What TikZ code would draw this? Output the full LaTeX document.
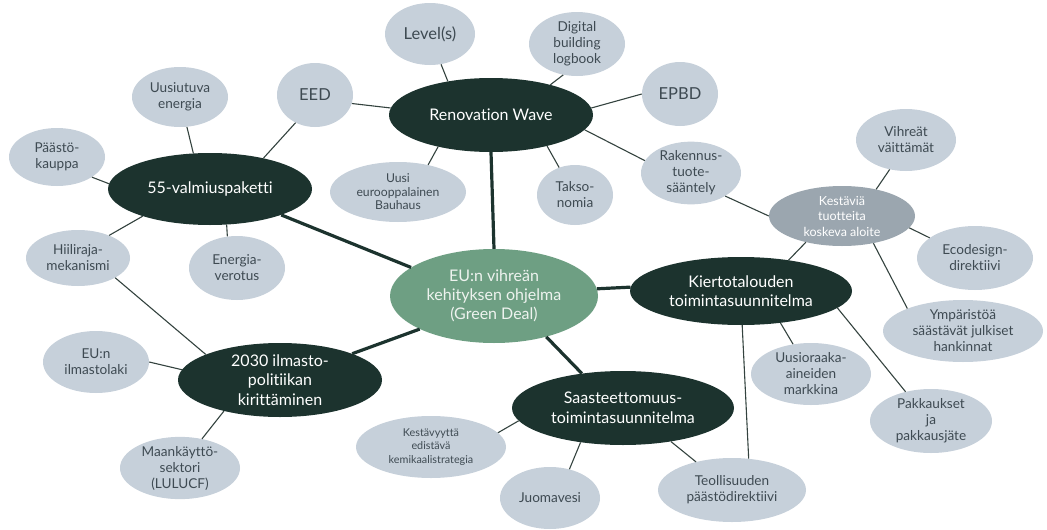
\documentclass[tikz,border=0pt]{standalone}
\usepackage{fontspec}
\setmainfont[Ligatures={NoCommon}]{Lato}
\usetikzlibrary{shapes.geometric}
\definecolor{hubfill}{HTML}{1C332E}
\definecolor{leaffill}{HTML}{C6D0DA}
\definecolor{leaftext}{HTML}{3E4A52}
\definecolor{corefill}{HTML}{6E9F83}
\definecolor{coretext}{HTML}{EEF3EF}
\definecolor{midfill}{HTML}{9BA6AF}
\definecolor{linecol}{HTML}{34433F}
\begin{document}
\begin{tikzpicture}[x=1pt,y=-1pt,
  sz/.style 2 args={minimum width=#1pt, minimum height=#2pt},
  bub/.style={ellipse, inner sep=0pt, align=center},
  hub/.style={bub, fill=hubfill, text=white, font=\fontsize{16}{19.5}\selectfont},
  core/.style={bub, fill=corefill, text=coretext, font=\fontsize{16}{19}\selectfont},
  mid/.style={bub, fill=midfill, text=white, font=\fontsize{12.5}{15.5}\selectfont},
  leaf/.style={bub, fill=leaffill, text=leaftext, font=\fontsize{13.6}{16}\selectfont},
  bigleaf/.style={leaf, font=\fontsize{16.5}{19}\selectfont},
  smallleaf/.style={leaf, font=\fontsize{10.8}{13.5}\selectfont},
  link/.style={draw=linecol, line width=1.1pt},
  trunk/.style={draw=hubfill, line width=3.2pt}]
\useasboundingbox (0,0) rectangle (1047,530);

% main themes
\node[hub, sz={204}{74}] (ren) at (491,115) {Renovation Wave};
\node[hub, sz={204}{72}] (pak) at (210,189) {55-valmiuspaketti};
\node[hub, sz={204}{74}] (ilm) at (280,380) {2030 ilmasto-\\politiikan\\kirittäminen};
\node[hub, sz={222}{68}] (kie) at (741,291) {Kiertotalouden\\toimintasuunnitelma};
\node[hub, sz={222}{74}] (saa) at (623,408) {Saasteettomuus-\\toimintasuunnitelma};
\node[core, sz={208}{94}] (cen) at (494,296) {EU:n vihreän\\kehityksen ohjelma\\(Green Deal)};
\node[mid, sz={146}{60}] (kes) at (842,216) {Kestäviä\\tuotteita\\koskeva aloite};

% initiatives
\node[bigleaf, sz={90}{62}] (lev) at (430,34) {Level(s)};
\node[leaf, sz={96}{64}] (dig) at (577,44) {Digital\\building\\logbook};
\node[bigleaf, sz={76}{64}] (epb) at (680,94) {EPBD};
\node[bigleaf, sz={76}{64}] (eed) at (315,95) {EED};
\node[leaf, sz={96}{60}] (uus) at (180,97) {Uusiutuva\\energia};
\node[leaf, sz={96}{58}] (paa) at (57,157) {Päästö-\\kauppa};
\node[smallleaf, sz={136}{60}, font=\fontsize{12.2}{13.5}\selectfont] (bau) at (398,192) {Uusi\\eurooppalainen\\Bauhaus};
\node[leaf, sz={76}{60}] (tak) at (575,195) {Takso-\\nomia};
\node[leaf, sz={100}{62}] (rak) at (691,173) {Rakennus-\\tuote-\\sääntely};
\node[leaf, sz={100}{62}] (vih) at (906,140) {Vihreät\\väittämät};
\node[leaf, sz={116}{64}] (eco) at (975,258) {Ecodesign-\\direktiivi};
\node[leaf, sz={104}{56}] (hii) at (78,258) {Hiiliraja-\\mekanismi};
\node[leaf, sz={96}{64}] (ene) at (237,268) {Energia-\\verotus};
\node[leaf, sz={160}{62}] (ymp) at (963,331) {Ympäristöä\\säästävät julkiset\\hankinnat};
\node[leaf, sz={106}{62}] (eui) at (96,362) {EU:n\\ilmastolaki};
\node[leaf, sz={120}{62}] (uur) at (811,374) {Uusioraaka-\\aineiden\\markkina};
\node[leaf, sz={122}{64}] (pkk) at (931,421) {Pakkaukset\\ja\\pakkausjäte};
\node[smallleaf, sz={150}{62}] (kem) at (431,447) {Kestävyyttä\\edistävä\\kemikaalistrategia};
\node[leaf, sz={120}{58}] (maa) at (180,468) {Maankäyttö-\\sektori\\(LULUCF)};
\node[leaf, sz={100}{62}] (juo) at (550,498) {Juomavesi};
\node[leaf, sz={148}{64}] (teo) at (732,490) {Teollisuuden\\päästödirektiivi};

% thin links
\draw[link] (lev.-70) -- (ren.142);
\draw[link] (eed.-13) -- (ren.176);
\draw[link] (eed.-125) -- (pak.30);
\draw[link] (uus.-77) -- (pak.115);
\draw[link] (paa.-30) -- (pak.177);
\draw[link] (bau.42) -- (ren.-149);
\draw[link] (pak.-158) -- (hii.36);
\draw[link] (pak.-65) -- (ene.107);
\draw[link] (dig.-114) -- (ren.27);
\draw[link] (epb.180) -- (ren.4);
\draw[link] (ren.-9) -- (rak.165);
\draw[link] (ren.-29) -- (tak.120);
\draw[link] (rak.-34) -- (kes.180);
\draw[link] (vih.-119) -- (kes.38);
\draw[link] (kes.-10) -- (eco.156);
\draw[link] (kes.-144) -- (kie.33);
\draw[link] (kes.-41) -- (ymp.158);
\draw[link] (hii.-28) -- (ilm.161);
\draw[link] (eui.0) -- (ilm.174);
\draw[link] (ilm.-151) -- (maa.53);
\draw[link] (kem.12) -- (saa.-173);
\draw[link] (kie.-39) -- (uur.121);
\draw[link] (kie.-10) -- (pkk.131);
\draw[link] (kie.-88) -- (teo.62);
\draw[link] (saa.-141) -- (juo.56);
\draw[link] (saa.-35) -- (teo.142);

% trunk links from the central programme
\draw[trunk] (pak.-20) -- (cen.161);
\draw[trunk] (ren.-90) -- (cen.90);
\draw[trunk] (cen.4) -- (kie.178);
\draw[trunk] (cen.-156) -- (ilm.20);
\draw[trunk] (cen.-38) -- (saa.140);
\end{tikzpicture}
\end{document}
